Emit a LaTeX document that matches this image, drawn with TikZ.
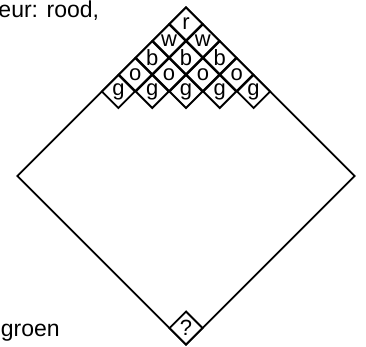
\documentclass[tikz,border=0pt]{standalone}
\usepackage{fontspec}
\setmainfont{Liberation Sans}
\usetikzlibrary{shapes.geometric}

\begin{document}
\begin{tikzpicture}[
    x=1pt, y=1pt,
    line width=1.9pt,
    board/.style={diamond,draw,inner sep=0pt,minimum size=338pt},
    cell/.style={diamond,draw,inner sep=0pt,minimum size=33.8pt,font=\fontsize{22}{22}\selectfont},
    label/.style={inner sep=0pt,font=\fontsize{23}{23}\selectfont}
]
\useasboundingbox (0,0) rectangle (366,347);

% het grote vierkant
\node[board] (board) at (186,171) {};

% de stapel bovenin: rij k heeft k+1 vakjes
\foreach \k/\c in {0/r,1/w,2/b,3/o,4/g} {
  \foreach \j in {0,...,\k} {
    \node[cell] (c\k\j) at ({186+(2*\j-\k)*16.9},{340-(\k+1)*16.9}) {\c};
  }
}

% het vakje onderin
\node[cell] (vraag) at (186,18.9) {?};

% tekst links
\node[label,anchor=base east] (kleur) at (100,329) {eur: rood,};
\node[label,anchor=base west] (groen) at (0,10) {groen};

\end{tikzpicture}
\end{document}
